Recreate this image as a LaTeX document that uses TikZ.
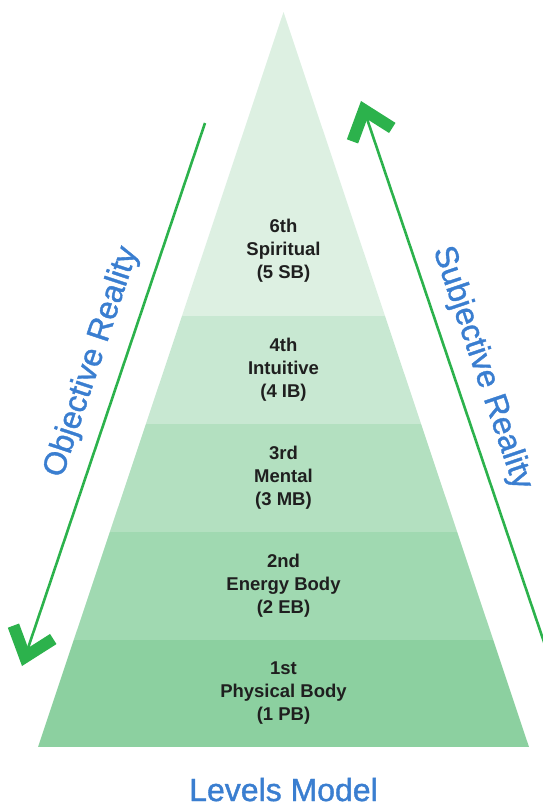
\documentclass[tikz,border=0pt]{standalone}
\usepackage{fontspec}
\setmainfont{Liberation Sans}
\newfontfamily\headfont[FakeBold=1.2]{Liberation Sans}
\usetikzlibrary{arrows.meta}

\definecolor{leafgreen}{RGB}{44,178,76}
\definecolor{skyblue}{RGB}{58,126,208}
\definecolor{band_one}{RGB}{140,208,160}
\definecolor{band_two}{RGB}{160,217,177}
\definecolor{band_three}{RGB}{179,224,192}
\definecolor{band_four}{RGB}{200,232,210}
\definecolor{band_six}{RGB}{221,240,226}

\begin{document}
\begin{tikzpicture}[x=1pt,y=-1pt,node distance=108pt]
	\tikzstyle{level}=[align=center,text=black!88,
				font=\bfseries\fontsize{18.5}{23}\selectfont]
	\tikzstyle{reality}=[text=skyblue,font=\headfont\fontsize{32}{32}\selectfont]
	\tikzstyle{pointer}=[draw=leafgreen,line width=2.6pt,
				-{Straight Barb[length=26pt,width=42pt,line width=12pt]}]

	\useasboundingbox (0,0) rectangle (542,803);

	\coordinate (apex) at (283.5,12);
	\coordinate (base_left) at (38,747);
	\coordinate (base_right) at (529,747);

	% bands of the pyramid
	\begin{scope}
		\clip (apex) -- (base_left) -- (base_right) -- cycle;
		\fill[band_six] (0,0) rectangle (542,316);
		\fill[band_four] (0,316) rectangle (542,424);
		\fill[band_three] (0,424) rectangle (542,532);
		\fill[band_two] (0,532) rectangle (542,640);
		\fill[band_one] (0,640) rectangle (542,747);
	\end{scope}

	\node (level_one)[level] at (283.5,693.5) {1st\\Physical Body\\(1 PB)};
	\node (level_two)[level] [above of= level_one] {2nd\\Energy Body\\(2 EB)};
	\node (level_three)[level] [above of= level_two] {3rd\\Mental\\(3 MB)};
	\node (level_four)[level] [above of= level_three] {4th\\Intuitive\\(4 IB)};
	\node (level_six)[level] [above of= level_four, node distance=119pt] {6th\\Spiritual\\(5 SB)};

	\coordinate (objective_top) at (205,123);
	\coordinate (objective_tip) at (22,666);
	\coordinate (subjective_foot) at (546,648);
	\coordinate (subjective_tip) at (361,101);

	\draw[pointer] (objective_top) -- (objective_tip);
	\draw[pointer] (subjective_foot) -- (subjective_tip);

	\node (objective_label)[reality] [rotate=71.7] at (92,362) {Objective Reality};
	\node (subjective_label)[reality] [rotate=-71.3] at (482,368) {Subjective Reality};

	\node (model_title)[reality] [anchor=base] at (283.5,801) {Levels Model};
\end{tikzpicture}
\end{document}
